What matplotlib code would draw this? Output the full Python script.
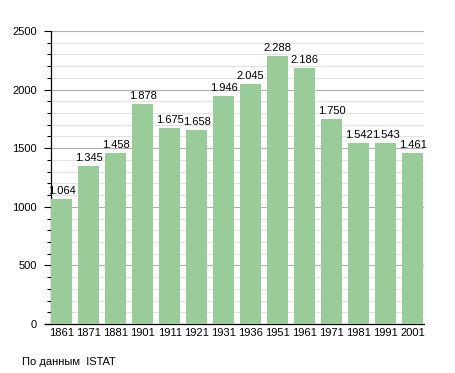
import matplotlib.pyplot as plt
from matplotlib.ticker import MultipleLocator

# ==========================================================
# DATA
# ==========================================================

years = ["1861", "1871", "1881", "1901", "1911", "1921", "1931",
         "1936", "1951", "1961", "1971", "1981", "1991", "2001"]
population = [1064, 1345, 1458, 1878, 1675, 1658, 1946,
              2045, 2288, 2186, 1750, 1542, 1543, 1461]
labels = ["1.064", "1.345", "1.458", "1.878", "1.675", "1.658", "1.946",
          "2.045", "2.288", "2.186", "1.750", "1.542", "1.543", "1.461"]

# ==========================================================
# PLOT
# ==========================================================

plt.rcParams["font.family"] = ["Liberation Sans", "DejaVu Sans"]

fig = plt.figure(figsize=(4.55, 3.73), dpi=100)
ax = fig.add_axes([50.5 / 455, 49 / 373, 373.5 / 455, 293 / 373])

x = range(len(years))
ax.bar(x, population, width=0.77, color="#99cc99", zorder=3)

for i, (v, t) in enumerate(zip(population, labels)):
    ax.text(i, v + 25, t, ha="center", va="bottom", fontsize=8, zorder=4)

ax.set_xlim(-0.42, len(years) - 0.58)
ax.set_ylim(0, 2500)
ax.set_xticks(list(x))
ax.set_xticklabels(years, fontsize=8)
ax.yaxis.set_major_locator(MultipleLocator(500))
ax.yaxis.set_minor_locator(MultipleLocator(100))
ax.tick_params(axis="y", labelsize=8, length=5, width=0.8, pad=5)
ax.tick_params(axis="y", which="minor", length=3, width=0.8)
ax.tick_params(axis="x", length=0, pad=3)

ax.grid(axis="y", which="major", color="#b0b0b0", linewidth=0.8, zorder=0)
ax.grid(axis="y", which="minor", color="#e2e2e2", linewidth=0.8, zorder=0)

for side in ["top", "right"]:
    ax.spines[side].set_visible(False)
ax.spines["left"].set_linewidth(0.9)
ax.spines["bottom"].set_linewidth(0.9)
ax.spines["bottom"].set_bounds(-0.62, len(years) - 0.58)

fig.text(22 / 455, 1 - 362 / 373, "По данным  ISTAT", fontsize=8, va="center")

plt.savefig("out.png", dpi=100)
